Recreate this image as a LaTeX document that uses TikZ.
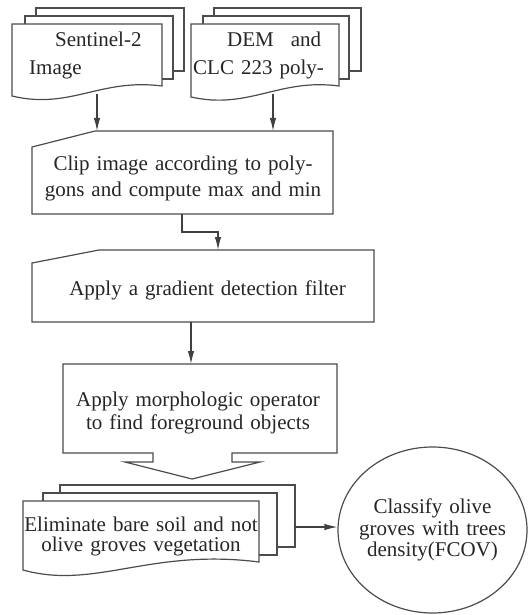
\documentclass[tikz,border=0pt]{standalone}
\usepackage{fontspec}
\setmainfont{Liberation Serif}
\usetikzlibrary{arrows.meta,positioning,calc,shapes.geometric}

\begin{document}
\begin{tikzpicture}[x=1pt,y=-1pt,>={Latex[length=13pt,width=6.5pt]},
 sheet/.style={draw=black!70,fill=white,line width=1.2pt},
 txt/.style={inner sep=0pt,text=black!85,text width=#1,align=center},
 txt/.default=300,
 lsp/.style={font=\fontsize{21}{#1}\selectfont},
 lsp/.default=26,
 flow/.style={->,draw=black!75,line width=1.2pt}]
\useasboundingbox (0,0) rectangle (527,615);
\begin{scope}
 \draw[sheet] (36,8) rectangle (184,71);
 \draw[sheet] (25,16) rectangle (173,79);
 \draw[sheet] (12,96) -- (12,24) -- (162,24) -- (162,86)
  .. controls (100,78) and (70,110) .. (12,96) -- cycle;
 \node[txt=125,align=left,anchor=base west,lsp=28.3] (sen) at (29,46.7)
  {\hspace*{26pt}Sentinel-2\\Image};
 \coordinate (senfoot) at (97,94);
\end{scope}
\begin{scope}
 \draw[sheet] (214,8) rectangle (361,71);
 \draw[sheet] (203,16) rectangle (349,79);
 \draw[sheet] (191,97) -- (191,24) -- (339,24) -- (339,86)
  .. controls (279,78) and (249,110) .. (191,97) -- cycle;
 \node[txt=128,align=left,anchor=base west,lsp=28.3] (dem) at (193,46.7)
  {\makebox[\linewidth][l]{\hspace*{34pt}DEM\hfill\ and}\\
   \makebox[\linewidth][l]{CLC 223\hfill\ poly-}};
 \coordinate (demfoot) at (273,94);
\end{scope}
\draw[sheet] (32,147) -- (95,131) -- (333,131) -- (333,214) -- (32,214) -- cycle;
\node[txt,anchor=base,lsp=26] (clip) at (183,170.5)
 {Clip image according to poly-\\gons and compute max and min};
\coordinate (clipheadA) at (97,131);
\coordinate (clipheadB) at (273,131);
\coordinate (clipfoot) at (182,214);
\draw[sheet] (32,263) -- (99,250) -- (374,250) -- (374,322) -- (32,322) -- cycle;
\node[txt=330,anchor=base,lsp] (grad) at (207.5,295.5) {Apply a gradient detection filter};
\coordinate (gradhead) at (218,250);
\coordinate (gradfoot) at (191,322);
\draw[sheet] (63,364) -- (337,364) -- (337,453) -- (232,453) -- (232,462) -- (260,462)
 -- (192,479) -- (125,462) -- (153,462) -- (153,453) -- (63,453) -- cycle;
\node[txt=270,anchor=base,lsp=23] (morph) at (198,406.5)
 {Apply morphologic operator\\to find foreground objects};
\coordinate (morphhead) at (191,364);
\begin{scope}
 \draw[sheet] (60,485) rectangle (295,547);
 \draw[sheet] (43,493) rectangle (277,555);
 \draw[sheet] (23,570) -- (23,501) -- (259,501) -- (259,562)
  .. controls (150,548) and (95,590) .. (23,570) -- cycle;
 \node[txt=240,anchor=base,lsp=20] (elim) at (141,531.5)
  {Eliminate bare soil and not\\olive groves vegetation};
 \coordinate (elimside) at (295,527);
\end{scope}
\node[ellipse,draw=black!70,line width=1.2pt,minimum width=189pt,minimum height=166pt,inner sep=0pt] (cls) at (432.5,530) {};
\node[txt=160,lsp=21.5] (clstxt) at (cls.center)
 {Classify olive\\groves with trees\\density(FCOV)};
\draw[flow] (senfoot) -- (clipheadA);
\draw[flow] (demfoot) -- (clipheadB);
\draw[flow] (clipfoot) -- ++(0,18) -| (gradhead);
\draw[flow] (gradfoot) -- (morphhead);
\draw[flow] (elimside) -- (elimside -| cls.west);
\end{tikzpicture}
\end{document}
